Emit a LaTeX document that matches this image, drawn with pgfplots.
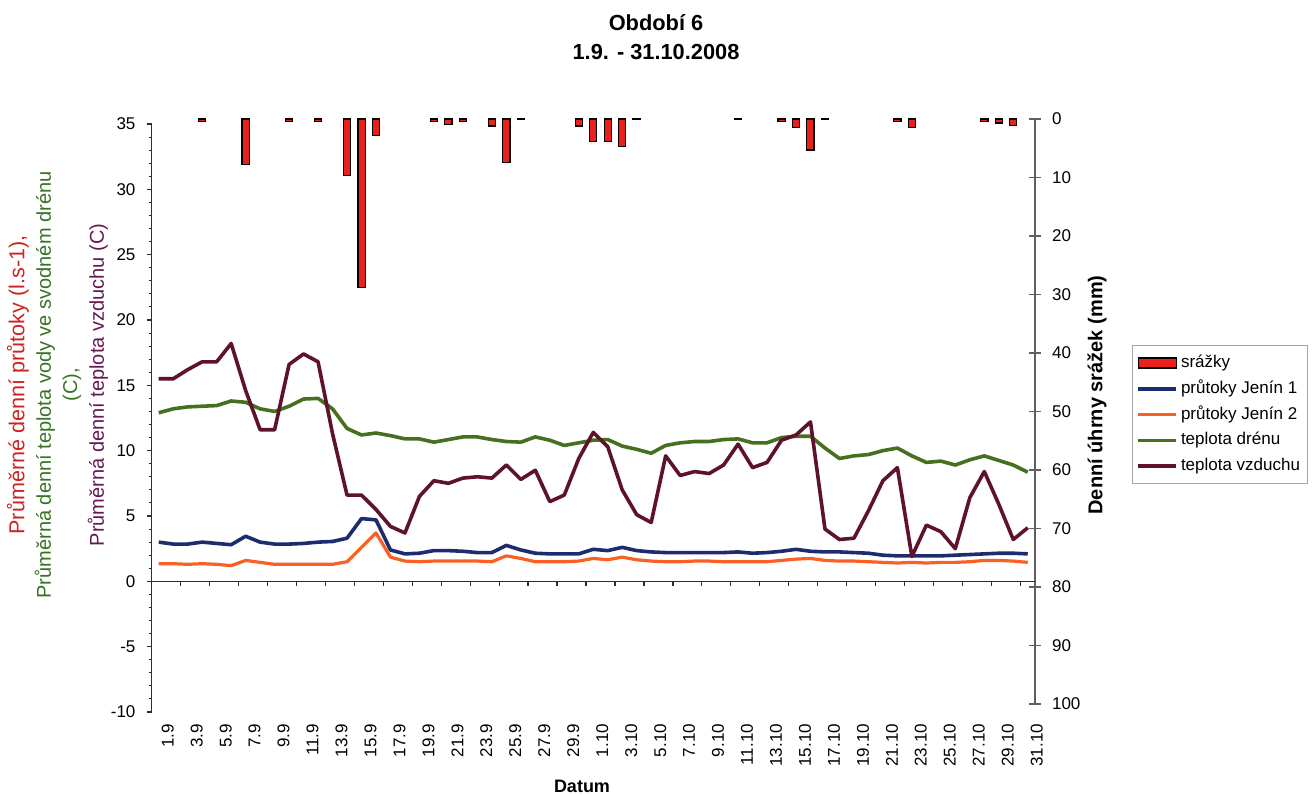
\documentclass[border=0pt]{standalone}
\usepackage{fontspec}
\setmainfont{Liberation Sans}
\usepackage{pgfplots}
\pgfplotsset{compat=1.18}
\usepackage{pgfplotstable}

\definecolor{cRed}{RGB}{235,32,28}
\definecolor{cNavy}{RGB}{28,44,110}
\definecolor{cOrange}{RGB}{250,95,35}
\definecolor{cGreen}{RGB}{70,112,30}
\definecolor{cMaroon}{RGB}{95,18,45}
\definecolor{cLabRed}{RGB}{205,35,35}
\definecolor{cLabGreen}{RGB}{55,115,35}
\definecolor{cLabPurple}{RGB}{100,25,85}
\definecolor{cAxis}{RGB}{35,45,70}

\pgfplotsset{
  barlegend/.style={legend image code/.code={\draw[##1] (0pt,-2.5pt) rectangle (19pt,2.5pt);}},
  linelegend/.style={legend image code/.code={\draw[##1] (0pt,0pt) -- (19pt,0pt);}},
}

\pgfplotstableread{
i air drain qa qb
0 15.5 12.9 3.0 1.35
1 15.5 13.2 2.85 1.35
2 16.2 13.35 2.85 1.3
3 16.8 13.4 3.0 1.35
4 16.8 13.45 2.9 1.3
5 18.2 13.8 2.8 1.2
6 14.6 13.7 3.45 1.6
7 11.6 13.2 3.0 1.45
8 11.6 13.0 2.85 1.3
9 16.6 13.4 2.85 1.3
10 17.4 13.95 2.9 1.3
11 16.8 14.0 3.0 1.3
12 11.3 13.2 3.05 1.3
13 6.6 11.7 3.3 1.5
14 6.6 11.2 4.8 2.6
15 5.5 11.35 4.7 3.7
16 4.2 11.15 2.4 1.85
17 3.7 10.9 2.1 1.55
18 6.5 10.9 2.15 1.5
19 7.7 10.65 2.35 1.55
20 7.5 10.85 2.35 1.55
21 7.9 11.05 2.3 1.55
22 8.0 11.05 2.2 1.55
23 7.9 10.85 2.2 1.5
24 8.9 10.7 2.75 1.95
25 7.8 10.65 2.4 1.75
26 8.5 11.05 2.15 1.5
27 6.1 10.8 2.1 1.5
28 6.6 10.4 2.1 1.5
29 9.4 10.6 2.1 1.55
30 11.4 10.8 2.45 1.75
31 10.3 10.85 2.35 1.65
32 7.0 10.35 2.6 1.85
33 5.1 10.1 2.35 1.65
34 4.5 9.8 2.25 1.55
35 9.6 10.4 2.2 1.5
36 8.1 10.6 2.2 1.5
37 8.4 10.7 2.2 1.55
38 8.25 10.7 2.2 1.55
39 8.9 10.85 2.2 1.5
40 10.5 10.9 2.25 1.5
41 8.7 10.6 2.15 1.5
42 9.1 10.6 2.2 1.5
43 10.8 11.0 2.3 1.6
44 11.2 11.1 2.45 1.7
45 12.2 11.1 2.3 1.75
46 4.0 10.2 2.25 1.6
47 3.2 9.4 2.25 1.55
48 3.3 9.6 2.2 1.55
49 5.4 9.7 2.15 1.5
50 7.7 10.0 2.0 1.45
51 8.7 10.2 1.95 1.4
52 1.9 9.6 1.95 1.45
53 4.3 9.1 1.95 1.4
54 3.8 9.2 1.95 1.45
55 2.5 8.9 2.0 1.45
56 6.4 9.3 2.05 1.5
57 8.4 9.6 2.1 1.6
58 5.9 9.25 2.15 1.6
59 3.2 8.9 2.15 1.55
60 4.1 8.35 2.1 1.45
}\temps

\pgfplotstableread{
i mm
3 0.4
6 7.8
9 0.4
11 0.4
13 9.6
14 28.8
15 2.85
19 0.4
20 1.0
21 0.4
23 1.2
24 7.5
25 0.15
29 1.2
30 3.8
31 3.8
32 4.7
33 0.15
40 0.15
43 0.4
44 1.4
45 5.3
46 0.15
51 0.4
52 1.4
57 0.4
58 0.7
59 1.1
}\rain

\begin{document}
\begin{tikzpicture}
\useasboundingbox (0,0) rectangle (656.5pt,397.5pt);

% right axis: precipitation
\begin{axis}[
  at={(75.75pt,45.5pt)}, anchor=south west, scale only axis,
  width=441.75pt, height=292.5pt,
  xmin=-0.5, xmax=60.5, ymin=0, ymax=100, y dir=reverse,
  axis x line=none, axis y line*=right,
  ytick={0,10,...,100}, tick align=center, major tick length=6pt,
  y axis line style={draw=gray!75!black, line width=0.6pt},
  ytick style={draw=gray!75!black, line width=0.6pt},
  yticklabel style={font=\fontsize{8.5}{10}\selectfont, xshift=2pt},
  /pgf/number format/assume math mode=true,
]
\addplot[ybar, bar width=3.6pt, fill=cRed, draw=black, line width=0.6pt] table[x=i,y=mm] {\rain};
\end{axis}

% left axis: flows and temperatures
\begin{axis}[
  at={(75.75pt,41.5pt)}, anchor=south west, scale only axis,
  width=441.75pt, height=294pt,
  xmin=-0.5, xmax=60.5, ymin=-10, ymax=35,
  axis y line*=left, axis x line*=bottom,
  x axis line style={draw=none},
  xtick={0,2,...,60},
  xticklabels={1.9,3.9,5.9,7.9,9.9,11.9,13.9,15.9,17.9,19.9,21.9,23.9,25.9,27.9,29.9,1.10,3.10,5.10,7.10,9.10,11.10,13.10,15.10,17.10,19.10,21.10,23.10,25.10,27.10,29.10,31.10},
  xtick style={draw=none},
  xticklabel style={rotate=90, anchor=east, font=\fontsize{8.5}{10}\selectfont, yshift=-4.5pt},
  ytick={-10,-5,...,35},
  yticklabels={-10,-5,0,5,10,15,20,25,30,35},
  minor y tick num=4,
  tick align=outside, major tick length=2.5pt, minor tick length=1.5pt,
  y axis line style={draw=cAxis, line width=0.7pt},
  ytick style={draw=cAxis, line width=0.6pt},
  minor y tick style={draw=cAxis, line width=0.5pt},
  yticklabel style={font=\fontsize{8.5}{10}\selectfont, xshift=-2pt},
  legend style={at={(1.1098,0.624)}, anchor=north west, draw=gray!70,
    font=\fontsize{8.5}{10}\selectfont, row sep=1.4pt, inner xsep=2pt, inner ysep=3pt,
    nodes={inner sep=1.5pt, text height=6.5pt, text depth=2pt},
    cells={anchor=west}},
  linelegend,
]
\draw[cAxis, line width=0.7pt] (axis cs:-0.5,0) -- (axis cs:60.5,0);
\pgfplotsinvokeforeach{1.5,3.5,...,59.5}{
  \draw[cAxis, line width=0.6pt] (axis cs:#1,0) -- ([yshift=-2.2pt]axis cs:#1,0);
}
\addlegendimage{barlegend, fill=cRed, draw=black, line width=0.6pt}
\addlegendentry{srážky}
\addplot[cNavy, line width=1.8pt, line join=round] table[x=i,y=qa] {\temps};
\addlegendentry{průtoky Jenín 1}
\addplot[cOrange, line width=1.6pt, line join=round] table[x=i,y=qb] {\temps};
\addlegendentry{průtoky Jenín 2}
\addplot[cGreen, line width=1.8pt, line join=round] table[x=i,y=drain] {\temps};
\addlegendentry{teplota drénu}
\addplot[cMaroon, line width=1.8pt, line join=round] table[x=i,y=air] {\temps};
\addlegendentry{teplota vzduchu}
\end{axis}

% titles and labels
\node[anchor=base, font=\bfseries\fontsize{10.9}{12}\selectfont] at (328pt,382pt) {Období 6};
\node[anchor=base, font=\bfseries\fontsize{10.9}{12}\selectfont] at (328pt,367.5pt) {1.9. - 31.10.2008};
\node[anchor=center, font=\bfseries\fontsize{9}{11}\selectfont] at (291pt,4.5pt) {Datum};
\node[rotate=90, anchor=center, font=\bfseries\fontsize{10}{12}\selectfont] at (548.5pt,200pt) {Denní úhrny srážek (mm)};
\begin{scope}[every node/.style={rotate=90, anchor=center, font=\fontsize{10}{12}\selectfont}]
\node[text=cLabRed, font=\fontsize{10.8}{12}\selectfont] at (9pt,205pt) {Průměrné denní průtoky (l.s-1),};
\node[text=cLabGreen] at (22.5pt,205pt) {Průměrná denní teplota vody ve svodném drénu};
\node[text=cLabGreen] at (36pt,205pt) {(C),};
\node[text=cLabPurple] at (49pt,205pt) {Průměrná denní teplota vzduchu (C)};
\end{scope}
\end{tikzpicture}
\end{document}
